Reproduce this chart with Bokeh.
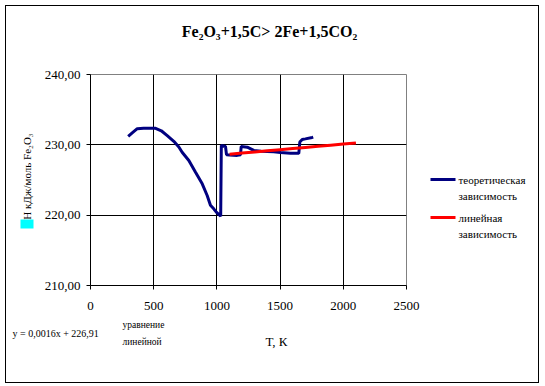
import math
from bokeh.plotting import figure
from bokeh.layouts import column, row
from bokeh.models import Label, BoxAnnotation, FixedTicker, Range1d
from bokeh.embed import file_html
from bokeh.resources import INLINE

# ---- data ----
theor_T = [298, 330, 370, 420, 470, 515, 560, 607, 659, 699, 725, 778, 831, 884,
           923, 949, 975, 997, 1030, 1035, 1068, 1076, 1100, 1160, 1187, 1192,
           1240, 1292, 1350, 1398, 1450, 1503, 1582, 1648, 1656, 1675, 1700, 1754, 1762]
theor_H = [231.2, 231.7, 232.3, 232.35, 232.35, 232.35, 232.0, 231.3, 230.5, 229.7,
           228.95, 227.77, 226.1, 224.46, 222.8, 221.4, 220.9, 220.4, 219.85, 229.9,
           229.76, 228.6, 228.55, 228.5, 228.6, 229.76, 229.67, 229.2, 229.1, 229.05,
           229.0, 228.9, 228.8, 228.8, 230.4, 230.76, 230.85, 231.05, 231.1]
lin_T = [1100, 1200, 1300, 1400, 1500, 1600, 1700, 1800, 1900, 2000, 2100]
lin_H = [228.67, 228.83, 228.99, 229.15, 229.31, 229.47, 229.63, 229.79, 229.95, 230.11, 230.27]

x_ticks = [0, 500, 1000, 1500, 2000, 2500]
y_ticks = [210, 220, 230, 240]
y_tick_labels = ["210,00", "220,00", "230,00", "240,00"]

title_text = "Fe₂O₃+1,5C>  2Fe+1,5CO₂"
ylabel_text = "Н кДж/моль Fe₂O₃"
delta_text = "Δ"
xlabel_text = "Т, К"
eq_text = "y = 0,0016x + 226,91"
eq_note = ["уравнение", "линейной"]
legend_texts = [["теоретическая", "зависимость"], ["линейная", "зависимость"]]
legend_colors = ["#000080", "#FF0000"]

SERIF = "Liberation Serif"

# ---- geometry (page px) ----
X0, Y0, X1, Y1 = 6, 6, 538, 382          # inside the 1px outer border
MAIN_L, MAIN_R, MAIN_T, MAIN_B = 40, 422, 64, 319
FL, FR, FT, FB = 90, 406, 74, 285        # plot frame


def helper(x0, x1, y0, y1, fy0=None, fy1=None, bt=0, bb=0):
    fy0 = y0 if fy0 is None else fy0
    fy1 = y1 if fy1 is None else fy1
    f = figure(width=x1 - x0, height=y1 - y0, output_backend="svg", toolbar_location=None,
               x_range=Range1d(x0, x1), y_range=Range1d(fy1, fy0),
               x_axis_type=None, y_axis_type=None, min_border=0,
               min_border_top=bt, min_border_bottom=bb)
    f.outline_line_color = None
    f.grid.visible = False
    f.background_fill_color = "white"
    f.border_fill_color = "white"
    return f


def lab(f, text, x, y, size, align="left", bold=False, angle=0.0, color="black"):
    f.add_layout(Label(x=x, y=y, text=text, text_font=SERIF, text_font_size=size,
                       text_align=align, text_baseline="middle", angle=angle,
                       text_font_style="bold" if bold else "normal",
                       text_color=color))


# ---- main chart ----
p = figure(width=MAIN_R - MAIN_L, height=MAIN_B - MAIN_T, output_backend="svg",
           toolbar_location=None, x_range=Range1d(0, 2500), y_range=Range1d(210, 240),
           min_border_left=FL - MAIN_L, min_border_right=MAIN_R - FR,
           min_border_top=FT - MAIN_T, min_border_bottom=MAIN_B - FB)
p.outline_line_color = "#808080"
p.background_fill_color = "white"
p.border_fill_color = "white"
p.xaxis.ticker = FixedTicker(ticks=x_ticks)
p.yaxis.ticker = FixedTicker(ticks=y_ticks)
p.yaxis.major_label_overrides = {t: l for t, l in zip(y_ticks, y_tick_labels)}
for ax in p.xaxis + p.yaxis:
    ax.axis_line_color = "black"
    ax.major_tick_line_color = "black"
    ax.minor_tick_line_color = None
    ax.major_tick_in = 0
    ax.major_tick_out = 4
    ax.major_label_text_font = SERIF
    ax.major_label_text_font_size = "13px"
    ax.major_label_text_color = "black"
p.yaxis.major_label_standoff = 6
p.xaxis.major_label_standoff = 12
p.grid.grid_line_color = "black"
p.grid.grid_line_width = 1

p.line(theor_T, theor_H, line_color="#000080", line_width=3)
p.line(lin_T, lin_H, line_color="#FF0000", line_width=3)

# ---- helper panels (their frames line up with the chart frame inside the row) ----
top = helper(X0, X1, Y0, MAIN_T)
lab(top, title_text, 271, 31, "16px", align="center", bold=True)

left = helper(X0, MAIN_L, MAIN_T, MAIN_B, FT, FB, FT - MAIN_T, MAIN_B - FB)
lab(left, ylabel_text, 26, 176, "11px", align="center", angle=math.pi / 2)
left.add_layout(BoxAnnotation(left=20, right=33, top=219, bottom=228,
                              fill_color="#00FFFF", fill_alpha=1, line_color=None))
lab(left, delta_text, 26.5, 223.5, "9px", align="center", color="#00FFFF")

right = helper(MAIN_R, X1, MAIN_T, MAIN_B, FT, FB, FT - MAIN_T, MAIN_B - FB)
for (t1, t2), c, y in zip(legend_texts, legend_colors, [179, 217]):
    right.add_layout(BoxAnnotation(left=430, right=455, top=y - 1.5, bottom=y + 1.5,
                                   fill_color=c, fill_alpha=1, line_color=None))
    lab(right, t1, 458, y, "11px")
    lab(right, t2, 458, y + 16, "11px")

bottom = helper(X0, X1, MAIN_B, Y1)
lab(bottom, eq_text, 12, 333, "10px")
lab(bottom, eq_note[0], 122, 324, "9.5px")
lab(bottom, eq_note[1], 122, 341, "9.5px")
lab(bottom, xlabel_text, 276, 341, "13px", align="center")

layout = column(top, row(left, p, right, spacing=0), bottom, spacing=0,
                styles={"margin-left": "5px", "margin-top": "5px",
                        "border": "1px solid black"})

open("out.html", "w").write(file_html(layout, INLINE))
